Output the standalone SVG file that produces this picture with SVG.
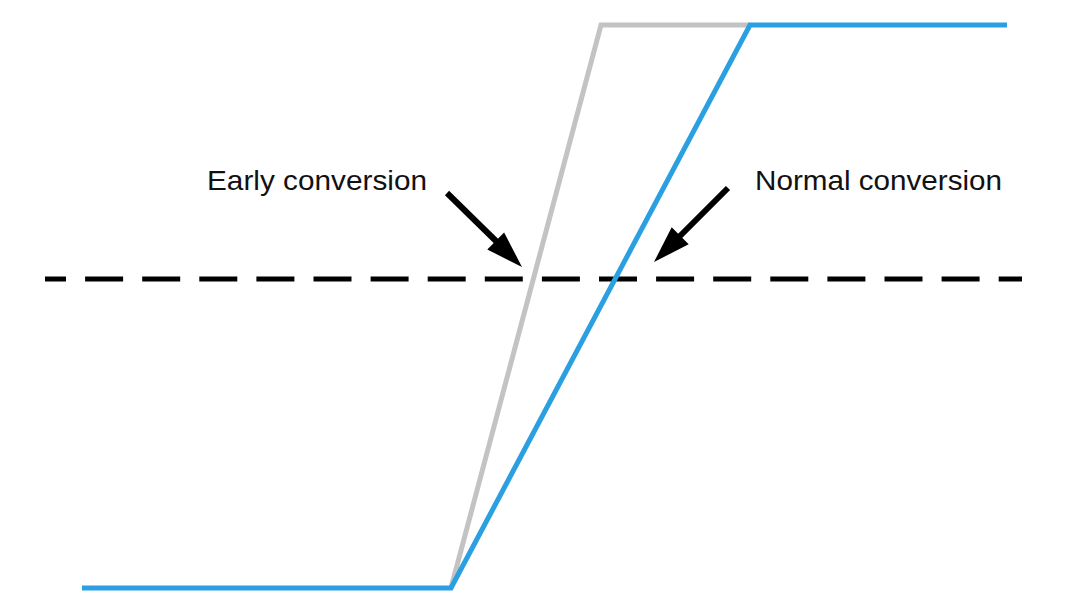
<svg xmlns="http://www.w3.org/2000/svg" width="1080" height="602" viewBox="0 0 1080 602">
<style>
.curve{fill:none;stroke-width:5;stroke-linejoin:miter}
.gray{stroke:#c3c3c3}
.blue{stroke:#2a9fe1}
.arrow{stroke:#000;stroke-width:6;fill:none}
.head{fill:#000}
.lbl{font-family:"Liberation Sans",Arial,sans-serif;font-size:28px;fill:#111}
</style>
<rect width="1080" height="602" fill="#fff"/>
<g id="threshold">
<line x1="45" y1="279" x2="1022" y2="279" stroke="#000" stroke-width="5" stroke-dasharray="38 19.1" stroke-dashoffset="17"/>
</g>
<g id="early-curve">
<polyline class="curve gray" points="451,588 601,25 750,25"/>
</g>
<g id="normal-curve">
<polyline class="curve blue" points="82,588 451,588 750,25 1007,25"/>
</g>
<g id="early-label">
<text class="lbl" x="207" y="190" textLength="220" lengthAdjust="spacingAndGlyphs">Early conversion</text>
</g>
<g id="normal-label">
<text class="lbl" x="755" y="190" textLength="247" lengthAdjust="spacingAndGlyphs">Normal conversion</text>
</g>
<g id="connectors">
<line class="arrow" x1="447" y1="193" x2="497" y2="242"/>
<polygon class="head" points="522,267 487.3,249.5 504.1,232.5"/>
<line class="arrow" x1="728" y1="188" x2="679" y2="237"/>
<polygon class="head" points="654,262 688.7,244.3 671.7,227.3"/>
</g>
</svg>
